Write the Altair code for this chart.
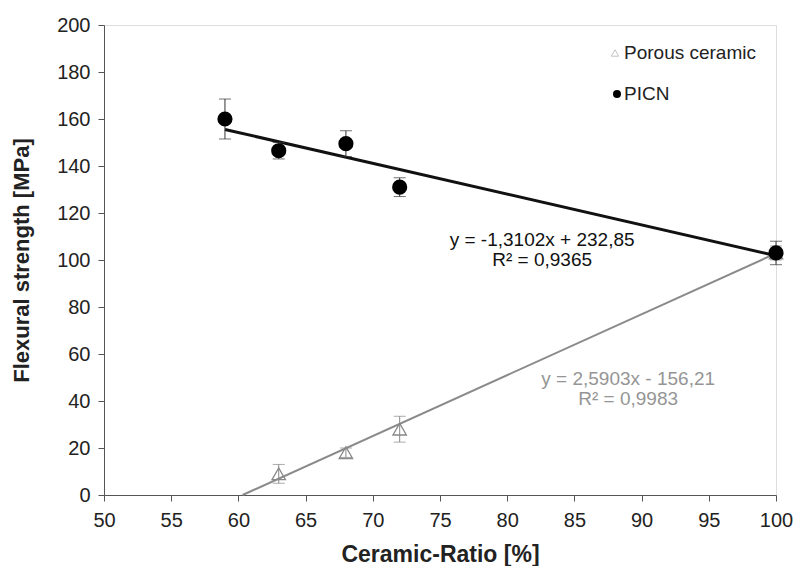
import altair as alt
import pandas as pd

# Data
picn_x = [59, 63, 68, 72, 100]
picn_y = [160, 146.5, 149.5, 131, 103]
picn_err = [8.5, 3.5, 5.5, 4, 5]

por_x = [63, 68, 72, 100]
por_y = [9, 18, 28, 103]
por_err = [4, 2, 5.5, 3]

picn_slope, picn_icpt = -1.3102, 232.85
por_slope, por_icpt = 2.5903, -156.21
picn_range = [59, 100]
por_range = [60.31, 100]

eq_x = [82.6, 82.6, 89.0, 89.0]
eq_y = [108.7, 99.8, 49.3, 40.8]
eq_t = ["y = -1,3102x + 232,85", "R² = 0,9365", "y = 2,5903x - 156,21", "R² = 0,9983"]

legend_labels = ["Porous ceramic", "PICN"]

picn = pd.DataFrame({"x": picn_x, "y": picn_y,
                     "lo": [a - b for a, b in zip(picn_y, picn_err)],
                     "hi": [a + b for a, b in zip(picn_y, picn_err)]})
por = pd.DataFrame({"x": por_x, "y": por_y,
                    "lo": [a - b for a, b in zip(por_y, por_err)],
                    "hi": [a + b for a, b in zip(por_y, por_err)]})
picn_line = pd.DataFrame({"x": picn_range, "y": [picn_slope * v + picn_icpt for v in picn_range]})
por_line = pd.DataFrame({"x": por_range, "y": [por_slope * v + por_icpt for v in por_range]})

FONT = "Liberation Sans"
GRAY = "#959595"
AX = "#555"

xs = alt.Scale(domain=[50, 100], nice=False, zero=False)
ys = alt.Scale(domain=[0, 200], nice=False)

X = alt.X("x:Q", scale=xs, title="Ceramic-Ratio [%]",
          axis=alt.Axis(values=list(range(50, 101, 5)), grid=False, tickSize=6,
                        labelFontSize=20, titleFontSize=23, titleFontWeight="bold",
                        labelColor="#222", titleColor="#222", domainColor=AX, tickColor=AX,
                        labelPadding=9, titlePadding=13, labelFont=FONT, titleFont=FONT,
                        labelFlush=False))
Y = alt.Y("y:Q", scale=ys, title="Flexural strength [MPa]",
          axis=alt.Axis(values=list(range(0, 201, 20)), grid=False, tickSize=6,
                        labelFontSize=20, titleFontSize=22, titleFontWeight="bold",
                        labelColor="#222", titleColor="#222", domainColor=AX, tickColor=AX,
                        labelPadding=8, titlePadding=23, labelFont=FONT, titleFont=FONT,
                        labelFlush=False))

base_picn = alt.Chart(picn)
base_por = alt.Chart(por)

por_line_c = alt.Chart(por_line).mark_line(color="#8a8a8a", strokeWidth=2).encode(x=X, y=Y)
picn_line_c = alt.Chart(picn_line).mark_line(color="#111", strokeWidth=3).encode(x=X, y=Y)

por_err_c = base_por.mark_rule(color="#888", strokeWidth=1).encode(x=X, y="lo:Q", y2="hi:Q")
por_cap_lo = base_por.mark_tick(color="#888", thickness=1, size=12, orient="horizontal").encode(x=X, y="lo:Q")
por_cap_hi = base_por.mark_tick(color="#888", thickness=1, size=12, orient="horizontal").encode(x=X, y="hi:Q")
por_pts = base_por.mark_point(shape="triangle-up", filled=False, fill="white", fillOpacity=0,
                              color="#888", strokeWidth=1.3, size=180, opacity=1).encode(x=X, y=Y)

picn_err_c = base_picn.mark_rule(color="#333", strokeWidth=1).encode(x=X, y="lo:Q", y2="hi:Q")
picn_cap_lo = base_picn.mark_tick(color="#333", thickness=1, size=12, orient="horizontal").encode(x=X, y="lo:Q")
picn_cap_hi = base_picn.mark_tick(color="#333", thickness=1, size=12, orient="horizontal").encode(x=X, y="hi:Q")
picn_pts = base_picn.mark_circle(color="#000", size=230, opacity=1).encode(x=X, y=Y)

eq_df = pd.DataFrame({"x": eq_x, "y": eq_y, "t": eq_t, "c": ["#111", "#111", GRAY, GRAY]})
eq_text = alt.Chart(eq_df).mark_text(font=FONT, fontSize=19, align="center", baseline="middle").encode(
    x=X, y=Y, text="t:N", color=alt.Color("c:N", scale=None))

# Legend (manual)
leg_sym1 = alt.Chart(pd.DataFrame({"a": [0]})).mark_point(
    shape="triangle-up", filled=False, color="#aaa", size=55, strokeWidth=1).encode(
    x=alt.value(511), y=alt.value(28))
leg_sym2 = alt.Chart(pd.DataFrame({"a": [0]})).mark_circle(color="#000", size=65, opacity=1).encode(
    x=alt.value(513), y=alt.value(69))
leg_txt = alt.Chart(pd.DataFrame({"t": legend_labels, "yy": [28, 69]})).mark_text(
    font=FONT, fontSize=19, align="left", baseline="middle", color="#222").encode(
    x=alt.value(520), y=alt.Y("yy:Q", scale=None), text="t:N")

chart = alt.layer(
    por_line_c, picn_line_c,
    por_err_c, por_cap_lo, por_cap_hi, por_pts,
    picn_err_c, picn_cap_lo, picn_cap_hi, picn_pts,
    eq_text, leg_sym1, leg_sym2, leg_txt,
).properties(
    width=672, height=470,
    autosize=alt.AutoSizeParams(type="none"),
    padding={"left": 96, "top": 17, "right": 17, "bottom": 71},
).configure_view(stroke=AX, strokeWidth=1).configure(background="white")

chart.save("out.html", embed_options={"renderer": "svg", "actions": False})
